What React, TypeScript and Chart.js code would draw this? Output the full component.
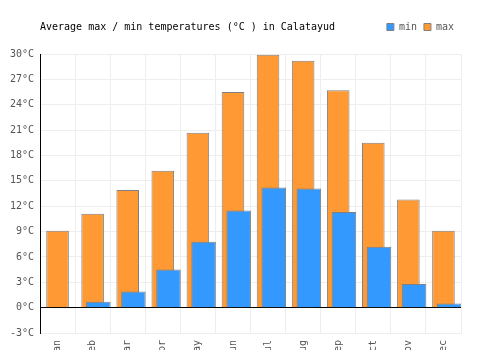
import React, { useEffect, useRef } from "react";
import { Chart, registerables } from "chart.js";

Chart.register(...registerables);

const months = ["Jan", "Feb", "Mar", "Apr", "May", "Jun", "Jul", "Aug", "Sep", "Oct", "Nov", "Dec"];
const minTemps = [-0.1, 0.7, 1.9, 4.5, 7.8, 11.5, 14.2, 14.1, 11.3, 7.2, 2.8, 0.5];
const maxTemps = [9.1, 11.1, 13.9, 16.2, 20.7, 25.5, 29.9, 29.2, 25.7, 19.5, 12.8, 9.1];
const titleText = "Average max / min temperatures (°C ) in Calatayud";
const yMin = -3;
const yMax = 30;
const yStep = 3;

const FONT = "'DejaVu Sans Mono', monospace";

const titlePlugin = {
  id: "leftTitle",
  afterDraw(chart: any) {
    const ctx = chart.ctx;
    const legend = chart.legend;
    ctx.save();
    ctx.font = "10px " + FONT;
    ctx.fillStyle = "#000";
    ctx.textAlign = "left";
    ctx.textBaseline = "middle";
    const y = legend && legend.legendHitBoxes && legend.legendHitBoxes.length
      ? legend.legendHitBoxes[0].top + legend.legendHitBoxes[0].height / 2
      : 27;
    ctx.fillText(titleText, chart.chartArea.left, y);
    ctx.restore();
  },
};

export default function App() {
  const ref = useRef<HTMLCanvasElement>(null);
  useEffect(() => {
    if (!ref.current) return;
    const shift = 0.163;
    const chart = new Chart(ref.current, {
      type: "bar",
      data: {
        labels: months,
        datasets: [
          {
            label: "min",
            data: minTemps.map((v, i) => ({ x: i, y: v })),
            xAxisID: "xMin",
            grouped: false,
            backgroundColor: "#3399ff",
            borderColor: "#808080",
            borderWidth: 1,
            categoryPercentage: 1,
            barPercentage: 0.7,
          },
          {
            label: "max",
            data: maxTemps.map((v, i) => ({ x: i, y: v })),
            xAxisID: "xMax",
            grouped: false,
            backgroundColor: "#ff9933",
            borderColor: "#808080",
            borderWidth: 1,
            categoryPercentage: 1,
            barPercentage: 0.644,
          },
        ],
      } as any,
      options: {
        animation: false,
        responsive: false,
        maintainAspectRatio: false,
        layout: { padding: { left: 0, right: 39, top: 15, bottom: 0 } },
        plugins: {
          title: {
            display: true,
            text: "",
            weight: 500,
            font: { family: FONT, size: 10, lineHeight: 1.2 },
            padding: { top: 0, bottom: 0 },
          },
          tooltip: { enabled: false },
          legend: {
            display: true,
            position: "top",
            align: "end",
            labels: {
              boxWidth: 7,
              boxHeight: 7,
              padding: 7,
              color: "#555",
              font: { family: FONT, size: 10 },
            },
          },
        },
        scales: {
          x: {
            type: "category",
            position: "bottom",
            offset: true,
            grid: { offset: true, color: "#eeeeee", drawTicks: false },
            border: { color: "#eeeeee" },
            ticks: {
              autoSkip: false,
              maxRotation: 90,
              minRotation: 90,
              padding: 7,
              color: "#555",
              font: { family: FONT, size: 10 },
            },
            afterFit: (axis: any) => {
              axis.height = 17;
            },
          },
          xMax: {
            type: "linear",
            display: false,
            offset: false,
            min: -0.5,
            max: months.length - 0.5,
            afterBuildTicks: (axis: any) => {
              axis.ticks = [];
            },
          },
          xMin: {
            type: "linear",
            display: false,
            offset: false,
            min: -0.5 - shift,
            max: months.length - 0.5 - shift,
            afterBuildTicks: (axis: any) => {
              axis.ticks = [];
            },
          },
          y: {
            type: "linear",
            min: yMin,
            max: yMax,
            ticks: {
              stepSize: yStep,
              padding: 6,
              color: "#555",
              font: { family: FONT, size: 10 },
              callback: (v: any) => v + "°C",
            },
            grid: {
              drawTicks: false,
              color: (c: any) => (c.tick && c.tick.value === 0 ? "#000" : "#eeeeee"),
            },
            border: { color: "#000" },
            afterFit: (axis: any) => {
              axis.width = 40;
            },
          },
        },
      } as any,
      plugins: [titlePlugin],
    });
    return () => chart.destroy();
  }, []);
  return (
    <div style={{ position: "absolute", left: 0, top: 0, width: 500, height: 350 }}>
      <canvas ref={ref} width={500} height={350} style={{ width: 500, height: 350 }} />
    </div>
  );
}
